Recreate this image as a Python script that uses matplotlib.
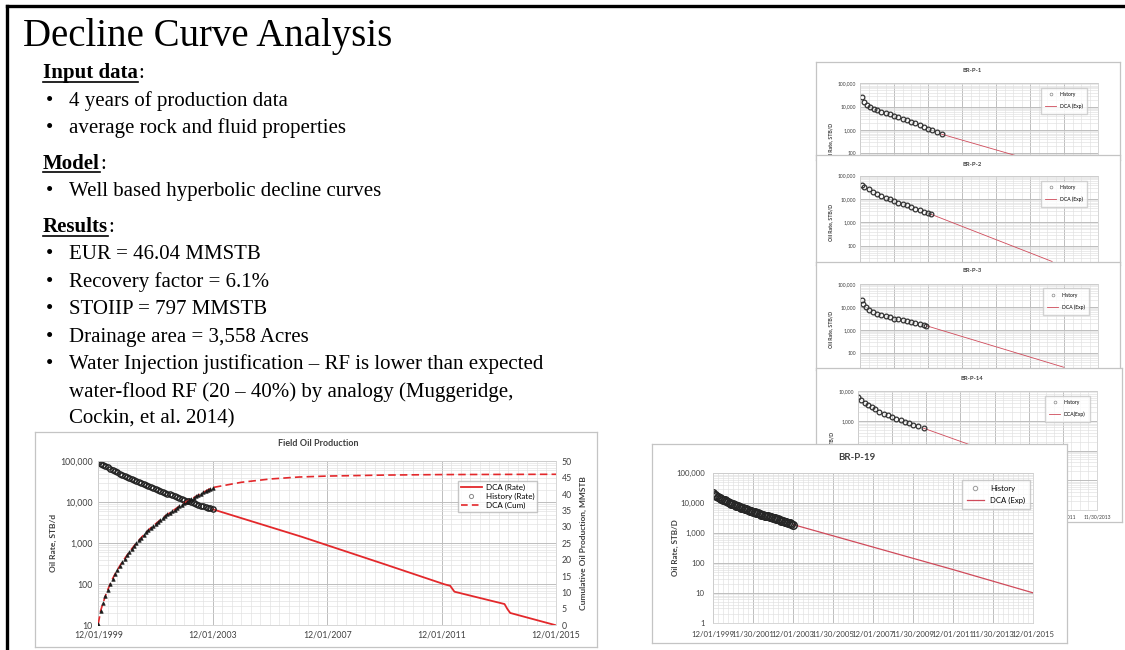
import numpy as np
import matplotlib
matplotlib.use("Agg")
import matplotlib.pyplot as plt
from matplotlib.ticker import FixedLocator, LogLocator, MultipleLocator, NullFormatter
from matplotlib.lines import Line2D

# ------------------------------------------------------------------ data
slide_title = "Decline Curve Analysis"
input_items = ["4 years of production data", "average rock and fluid properties"]
model_items = ["Well based hyperbolic decline curves"]
result_items = ["EUR = 46.04 MMSTB", "Recovery factor = 6.1%", "STOIIP = 797 MMSTB",
                "Drainage area = 3,558 Acres",
                "Water Injection justification \u2013 RF is lower than expected"]
result_cont = ["water-flood RF (20 \u2013 40%) by analogy (Muggeridge,", "Cockin, et al. 2014)"]

# Field chart (x in years after 12/01/1999, monthly history)
field_hist_rate = [95500, 87100, 81300, 75900, 70800, 66100, 61700, 57500, 53700, 50100,
                   46800, 44200, 41700, 39800, 37200, 35500, 33900, 31600, 30200, 28500,
                   26900, 25400, 24000, 22600, 21400, 20400, 19300, 18200, 17200, 16200,
                   15500, 14800, 14000, 13300, 12600, 12000, 11500, 11000, 10500, 10000,
                   9550, 9120, 8710, 8320, 7940, 7670, 7330, 7080, 6760]
field_hist_cum = [0.5, 4.5, 6.8, 9.0, 10.9, 12.6, 14.2, 15.6, 16.9, 18.1, 19.2, 20.3, 21.3,
                  22.3, 23.3, 24.2, 25.1, 25.9, 26.7, 27.5, 28.3, 29.0, 29.7, 30.3, 30.9,
                  31.5, 32.1, 32.7, 33.3, 33.8, 34.3, 34.8, 35.3, 35.8, 36.3, 36.8, 37.3,
                  37.7, 38.1, 38.5, 38.9, 39.3, 39.7, 40.1, 40.5, 40.9, 41.3, 41.7, 42.0]
field_dca_t = [4.0, 7.1, 10.0, 12.1, 12.3, 12.45, 14.2, 14.3, 14.4, 16.0]
field_dca_rate = [6760, 1450, 310, 100, 92, 66, 33, 25, 20, 10]
field_cum_t = [4, 5, 6, 7, 8, 10, 12, 14, 16]
field_dca_cum = [42.0, 43.6, 44.6, 45.2, 45.5, 45.8, 45.95, 46.0, 46.04]
field_xlabels = ["12/01/1999", "12/01/2003", "12/01/2007", "12/01/2011", "12/01/2015"]
rate_labels = ["1", "10", "100", "1,000", "10,000", "100,000"]
cum_ticks = [0, 5, 10, 15, 20, 25, 30, 35, 40, 45, 50]

# BR-P-19 (monthly history)
p19_hist = [21400, 19500, 18000, 16600, 15300, 14100, 13200, 12300, 11500, 10800,
            10200, 9670, 9120, 8710, 8220, 7850, 7410, 7080, 6760, 6460,
            6170, 5890, 5620, 5370, 5130, 4900, 4730, 4520, 4370, 4170,
            4030, 3850, 3720, 3590, 3470, 3350, 3240, 3090, 2990, 2850,
            2750, 2630, 2510, 2430, 2320, 2210, 2110, 2020, 1930]
p19_dca_t = [4, 8, 12, 16]
p19_dca = [1930, 340, 60, 10]
well_xlabels = ["12/01/1999", "11/30/2001", "12/01/2003", "11/30/2005", "12/01/2007",
                "11/30/2009", "12/01/2011", "11/30/2013", "12/01/2015"]

# small background panels
p1_t = [0.1, 0.25, 0.4, 0.6, 0.8, 1.0, 1.25, 1.5, 1.75, 2.0, 2.25, 2.5, 2.75, 3.0, 3.25,
        3.5, 3.75, 4.0, 4.25, 4.5, 4.8]
p1_q = [26300, 15800, 11500, 9330, 7940, 7080, 6170, 5370, 4680, 4070, 3550, 3090, 2690,
        2290, 2000, 1660, 1380, 1150, 955, 794, 661]
p1_dca_t = [4.8, 9.5]
p1_dca = [661, 68]
p2_t = [0.1, 0.25, 0.5, 0.75, 1.0, 1.25, 1.5, 1.75, 2.0, 2.25, 2.5, 2.75, 3.0, 3.25, 3.5,
        3.75, 4.0, 4.2]
p2_q = [39800, 33900, 26300, 20900, 17000, 13800, 11200, 9550, 8130, 7080, 6170, 5500,
        4570, 3800, 3240, 2750, 2400, 2190]
p2_dca_t = [4.2, 11.3]
p2_dca = [2190, 21]
p3_t = [0.1, 0.2, 0.35, 0.5, 0.75, 1.0, 1.25, 1.5, 1.75, 2.0, 2.25, 2.5, 2.75, 3.0, 3.25,
        3.5, 3.75, 3.9]
p3_q = [20000, 13200, 9550, 7590, 6030, 5010, 4370, 3890, 3470, 3090, 2820, 2570, 2340,
        2140, 1950, 1780, 1620, 1510]
p3_dca_t = [3.9, 12.0]
p3_dca = [1510, 23]
p14_t = [0.0, 0.2, 0.4, 0.6, 0.8, 1.0, 1.25, 1.5, 1.75, 2.0, 2.25, 2.5, 2.75, 3.0, 3.25,
         3.5, 3.84]
p14_q = [6460, 5010, 4070, 3390, 2880, 2450, 2040, 1740, 1510, 1320, 1150, 1020, 912, 813,
         724, 646, 562]
p14_dca_t = [3.84, 7.5]
p14_dca = [562, 100]

# ------------------------------------------------------------------ figure
W, H = 1125, 650
SERIF = "Liberation Serif"
SANS = "Lato"
TXT = "#404040"
RED = "#e3282b"
PINK = "#cf4a5a"

fig = plt.figure(figsize=(W / 100, H / 100), dpi=100)
fig.patch.set_facecolor("white")


def fy(y):
    return 1 - y / H


def add_ax(x0, y0, x1, y1, z):
    ax = fig.add_axes([x0 / W, 1 - y1 / H, (x1 - x0) / W, (y1 - y0) / H])
    ax.set_zorder(z)
    return ax


def add_frame(x0, y0, x1, y1, z, ec="#c4c4c4", lw=0.9):
    ax = add_ax(x0, y0, x1, y1, z)
    ax.set_xticks([])
    ax.set_yticks([])
    ax.set_facecolor("white")
    for s in ax.spines.values():
        s.set_edgecolor(ec)
        s.set_linewidth(lw)
    return ax


def style_log(ax, lo_exp, hi_exp, fs, pad, xmax, xmajor, xminor, xlabels=None, hide_below=None):
    ax.set_yscale("log")
    ax.set_ylim(10.0 ** lo_exp, 10.0 ** hi_exp)
    ticks = [10.0 ** e for e in range(lo_exp, hi_exp + 1)]
    ax.yaxis.set_major_locator(FixedLocator(ticks))
    labs = list(rate_labels[lo_exp:hi_exp + 1])
    if hide_below is not None:
        labs = [("" if e < hide_below else l) for e, l in zip(range(lo_exp, hi_exp + 1), labs)]
    ax.set_yticklabels(labs)
    ax.yaxis.set_minor_locator(LogLocator(base=10, subs=np.arange(2, 10)))
    ax.yaxis.set_minor_formatter(NullFormatter())
    ax.set_xlim(0, xmax)
    ax.xaxis.set_major_locator(MultipleLocator(xmajor))
    ax.xaxis.set_minor_locator(MultipleLocator(xminor))
    if xlabels is None:
        ax.set_xticklabels([])
    else:
        ax.set_xticks(np.arange(0, xmax + 0.001, xmajor))
        ax.set_xticklabels(xlabels)
    ax.set_axisbelow(True)
    ax.grid(which="major", color="#bdbdbd", lw=0.7)
    ax.grid(which="minor", color="#e0e0e0", lw=0.45)
    ax.tick_params(which="both", length=0, labelsize=fs, colors=TXT, pad=pad)
    for lab in ax.get_xticklabels() + ax.get_yticklabels():
        lab.set_fontfamily(SANS)
    for s in ax.spines.values():
        s.set_edgecolor("#d0d0d0")
        s.set_linewidth(0.6)


# ------------------------------------------------------------------ slide border
fig.add_artist(Line2D([7 / W, 7 / W], [0, fy(6)], color="black", lw=2.4, zorder=100))
fig.add_artist(Line2D([7 / W, 1], [fy(6), fy(6)], color="black", lw=2.4, zorder=100))

# ------------------------------------------------------------------ slide text
fig.text(23 / W, fy(46), slide_title, fontfamily=SERIF, fontsize=28, va="baseline")

renderer = fig.canvas.get_renderer()
BODY = 15


def heading(label, y):
    t = fig.text(43 / W, fy(y), label, fontfamily=SERIF, fontsize=BODY,
                 fontweight="bold", va="baseline")
    bb = t.get_window_extent(renderer)
    fig.text(bb.x1 / W, fy(y), ":", fontfamily=SERIF, fontsize=BODY, va="baseline")
    fig.add_artist(Line2D([bb.x0 / W, bb.x1 / W], [fy(y + 3.5), fy(y + 3.5)],
                          color="black", lw=1.2))


def bullet(text, y, dot=True):
    if dot:
        fig.text(46 / W, fy(y), "\u2022", fontfamily=SERIF, fontsize=BODY, va="baseline")
    fig.text(69 / W, fy(y), text, fontfamily=SERIF, fontsize=BODY, va="baseline")


heading("Input data", 78)
for s, y in zip(input_items, [106, 133]):
    bullet(s, y)
heading("Model", 169)
for s, y in zip(model_items, [196]):
    bullet(s, y)
heading("Results", 232)
for s, y in zip(result_items, [259, 287, 314, 342, 369]):
    bullet(s, y)
for s, y in zip(result_cont, [397, 423]):
    bullet(s, y, dot=False)

# ------------------------------------------------------------------ small panels (behind)
panels = [
    dict(name="BR-P-1", frame=(816, 62, 1120, 160), plot=(860, 83.3, 1098, 200),
         lo=0, hi=5, hide=2, t=p1_t, q=p1_q, dt=p1_dca_t, dq=p1_dca, title_y=70,
         leg=(1038, 85), dlabel="DCA (Exp)", xl=None),
    dict(name="BR-P-2", frame=(816, 155, 1120, 265), plot=(860, 175.7, 1098, 269),
         lo=1, hi=5, hide=2, t=p2_t, q=p2_q, dt=p2_dca_t, dq=p2_dca, title_y=165,
         leg=(1038, 178), dlabel="DCA (Exp)", xl=None),
    dict(name="BR-P-3", frame=(816, 262, 1120, 370), plot=(860, 284, 1098, 375.6),
         lo=1, hi=5, hide=2, t=p3_t, q=p3_q, dt=p3_dca_t, dq=p3_dca, title_y=270,
         leg=(1040, 286), dlabel="DCA (Exp)", xl=None),
    dict(name="BR-P-14", frame=(816, 368, 1122, 522), plot=(858, 391, 1097, 510),
         lo=0, hi=4, hide=None, t=p14_t, q=p14_q, dt=p14_dca_t, dq=p14_dca, title_y=378,
         leg=(1042, 393), dlabel="DCA(Exp)", xl=well_xlabels[:8]),
]
z = 10
for p in panels:
    add_frame(*p["frame"], z)
    x0, y0, x1, y1 = p["plot"]
    ax = add_ax(x0, y0, x1, y1, z + 1)
    style_log(ax, p["lo"], p["hi"], 3.6, 3, 14, 2, 0.5, p["xl"], p["hide"])
    ax.plot(p["dt"], p["dq"], color=PINK, lw=0.6)
    ax.plot(p["t"], p["q"], ls="none", marker="o", ms=3.4, mfc="none",
            mec="#333333", mew=0.9)
    h1 = Line2D([], [], ls="none", marker="o", ms=2, mfc="none", mec="#888888", mew=0.5)
    h2 = Line2D([], [], color=PINK, lw=0.6)
    ax.legend([h1, h2], ["History", p["dlabel"]], loc="upper left",
              bbox_to_anchor=(p["leg"][0] / W, fy(p["leg"][1])),
              bbox_transform=fig.transFigure, frameon=True,
              fancybox=False, edgecolor="#c8c8c8", borderpad=0.9, labelspacing=1.3,
              handlelength=2.2, prop={"family": SANS, "size": 3.6})
    ax.set_ylabel("Oil Rate, STB/D", fontsize=3.8, fontweight="bold", color=TXT,
                  fontfamily=SANS, labelpad=3)
    fig.text(972 / W, fy(p["title_y"]), p["name"], ha="center", va="center",
             fontsize=4.2, fontweight="bold", color=TXT, fontfamily=SANS, zorder=z + 1)
    z += 2

# ------------------------------------------------------------------ BR-P-19
add_frame(652, 444, 1067, 643, 40)
ax19 = add_ax(713, 473.3, 1033, 622.7, 41)
style_log(ax19, 0, 5, 5.6, 6, 16, 2, 0.25, well_xlabels)
ax19.plot(p19_dca_t, p19_dca, color=PINK, lw=0.9)
ax19.plot(np.arange(len(p19_hist)) / 12, p19_hist, ls="none", marker="o", ms=5.4,
          mfc="none", mec="#262626", mew=1.1)
h1 = Line2D([], [], ls="none", marker="o", ms=3.2, mfc="none", mec="#9a9a9a", mew=0.7)
h2 = Line2D([], [], color=PINK, lw=0.9)
ax19.legend([h1, h2], ["History", "DCA (Exp)"], loc="upper left",
            bbox_to_anchor=(958 / W, fy(476)), bbox_transform=fig.transFigure,
            frameon=True, fancybox=False, edgecolor="#c0c0c0", borderpad=0.6,
            labelspacing=0.7, handlelength=2.2, prop={"family": SANS, "size": 5.6})
fig.text(675 / W, fy(548), "Oil Rate, STB/D", rotation=90, ha="center", va="center",
         fontsize=5.8, fontweight="bold", color=TXT, fontfamily=SANS, zorder=42)
fig.text(857 / W, fy(458), "BR-P-19", ha="center", va="center", fontsize=7,
         fontweight="bold", color=TXT, fontfamily=SANS, zorder=42)

# ------------------------------------------------------------------ Field Oil Production
add_frame(35, 432, 597, 647, 50)
axf = add_ax(98.3, 461.3, 556, 625.3, 51)
style_log(axf, 1, 5, 6.3, 4, 16, 4, 1 / 3, field_xlabels)
months = np.arange(len(field_hist_rate)) / 12
axf.plot(field_dca_t, field_dca_rate, color=RED, lw=1.3)
axf.plot(months, field_hist_rate, ls="none", marker="o", ms=3.8, mfc="none",
         mec="#222222", mew=1.0)
ax2 = axf.twinx()
ax2.set_zorder(52)
ax2.patch.set_visible(False)
ax2.set_ylim(0, 50)
ax2.set_yticks(cum_ticks)
ax2.tick_params(length=0, labelsize=6.3, colors=TXT, pad=4)
for lab in ax2.get_yticklabels():
    lab.set_fontfamily(SANS)
for s in ax2.spines.values():
    s.set_visible(False)
ax2.plot(list(months) + field_cum_t[1:], field_hist_cum + field_dca_cum[1:],
         color=RED, lw=1.2, ls=(0, (4.5, 2.5)))
ax2.plot(months, field_hist_cum, ls="none", marker="^", ms=2.6, mfc="#1a1a1a",
         mec="#1a1a1a", mew=0.4)
hr = Line2D([], [], color=RED, lw=1.3)
hh = Line2D([], [], ls="none", marker="o", ms=3, mfc="none", mec="#8a8a8a", mew=0.7)
hc = Line2D([], [], color=RED, lw=1.2, ls=(0, (4, 2.5)))
ax2.legend([hr, hh, hc], ["DCA (Rate)", "History (Rate)", "DCA (Cum)"], loc="upper left",
           bbox_to_anchor=(454 / W, fy(477)), bbox_transform=fig.transFigure,
           frameon=True, fancybox=False, edgecolor="#b8b8b8", borderpad=0.35,
           labelspacing=0.25, handlelength=2.6, handletextpad=0.5,
           prop={"family": SANS, "size": 5.8})
fig.text(53 / W, fy(543), "Oil Rate, STB/d", rotation=90, ha="center", va="center",
         fontsize=6, fontweight="bold", color=TXT, fontfamily=SANS, zorder=55)
fig.text(583 / W, fy(543), "Cumulative Oil Production, MMSTB", rotation=90, ha="center",
         va="center", fontsize=6, fontweight="bold", color=TXT, fontfamily=SANS, zorder=55)
fig.text(318 / W, fy(444), "Field Oil Production", ha="center", va="center", fontsize=6.5,
         fontweight="bold", color=TXT, fontfamily=SANS, zorder=55)

fig.savefig("out.png", dpi=100, facecolor="white")
